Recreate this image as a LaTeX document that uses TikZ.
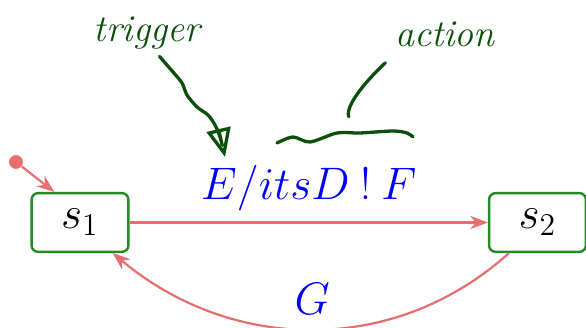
\documentclass[tikz,border=0pt]{standalone}
\usepackage{xcolor}
\usepackage{tikz}
\usetikzlibrary{arrows.meta, positioning, calc}

\definecolor{stategreen}{RGB}{34,139,34}
\definecolor{transred}{RGB}{230,110,110}
\definecolor{inkgreen}{RGB}{10,80,10}

\begin{document}
\begin{tikzpicture}[
    statebox/.style={draw=stategreen, line width=1.1pt, rounded corners=3pt, minimum width=1.55cm, minimum height=0.94cm, font=\huge, inner sep=2pt},
    trans/.style={-{Stealth[length=8pt, width=6pt]}, draw=transred, line width=1pt},
    lbl/.style={text=blue, font=\huge, inner sep=2pt},
    hand/.style={draw=inkgreen, line width=1.5pt, line cap=round, line join=round},
    note/.style={text=inkgreen, font=\LARGE\itshape, inner sep=0pt},
]

% fixed frame
\useasboundingbox (0,0) rectangle (9.376,5.248);

% States
\node[statebox] (s1) at (1.28, 1.688) {$s_1$};
\node[statebox] (s2) at (8.6, 1.688) {$s_2$};

% Initial pseudo state
\node[circle, fill=transred, inner sep=0pt, minimum size=0.22cm] (init) at (0.256, 2.656) {};

% Transitions
\draw[trans] (init) -- (s1.130);
\draw[trans] (s1.east) -- node[lbl, midway, above=3pt] (trlab) {$E/itsD\mathbin{!}F$} (s2.west);
\draw[trans] (s2.227) to[out=222, in=-40] node[lbl, midway, above=4pt] (glab) {$G$} (s1.317);

% Handwritten notes
\node[note, anchor=base] (trigger) at (2.352, 4.576) {trigger};
\node[note, anchor=base] (action) at (7.12, 4.496) {action};

% trigger -> event
\coordinate (trigtip) at (3.6, 2.736);
\draw[hand, -{Triangle[open, length=13pt, width=11pt]}] plot[smooth] coordinates {([xshift=0.2cm,yshift=-0.1cm]trigger.south) (2.768,4.096) (2.912,3.92) (2.992,3.728) (3.152,3.536) (3.328,3.408) (3.44,3.248) (3.52,3.056) (trigtip)};

% action -> wavy mark over the action part
\coordinate (actfoot) at (5.58, 3.38);
\draw[hand] ([shift={(-0.15,-0.24)}]action.south west) .. controls (5.85,3.95) and (5.52,3.55) .. (actfoot);
\draw[hand] plot[smooth] coordinates {(4.432,2.96) (4.688,3.056) (4.96,2.976) (5.392,3.12) (5.76,3.12) (6.288,3.152) (6.512,3.12) (6.608,3.056)};

\end{tikzpicture}
\end{document}
